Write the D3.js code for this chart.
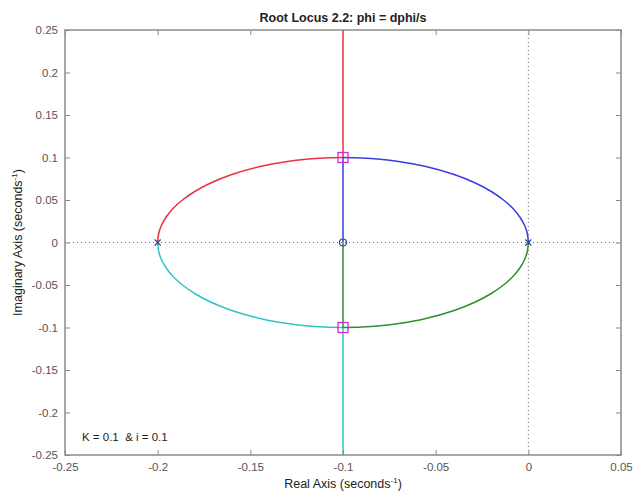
<!DOCTYPE html>
<html>
<head>
<meta charset="utf-8">
<script src="https://cdn.jsdelivr.net/npm/d3@7"></script>
<style>
  html, body { margin: 0; padding: 0; background: #fff; }
  text { font-family: "Liberation Sans", Arial, sans-serif; }
</style>
</head>
<body>
<svg id="chart" width="635" height="493"></svg>
<script>
// Root locus branches, as [real, imaginary] points (seconds^-1).
// Each branch is a curved arc off the real axis followed by a straight leg.
const redArc = [
  [-0.2, 0], [-0.1995, 0.01], [-0.198, 0.02], [-0.1954, 0.03], [-0.1917, 0.04],
  [-0.1866, 0.05], [-0.18, 0.06], [-0.1714, 0.07], [-0.16, 0.08], [-0.1436, 0.09],
  [-0.13, 0.0954], [-0.12, 0.098], [-0.11, 0.0995], [-0.1, 0.1]
];
const redLeg = [[-0.1, 0.1], [-0.1, 0.25]];
const blueArc = [
  [0, 0], [-0.0005, 0.01], [-0.002, 0.02], [-0.0046, 0.03], [-0.0083, 0.04],
  [-0.0134, 0.05], [-0.02, 0.06], [-0.0286, 0.07], [-0.04, 0.08], [-0.0564, 0.09],
  [-0.07, 0.0954], [-0.08, 0.098], [-0.09, 0.0995], [-0.1, 0.1]
];
const blueLeg = [[-0.1, 0.1], [-0.1, 0]];
const cyanArc = [
  [-0.2, 0], [-0.1995, -0.01], [-0.198, -0.02], [-0.1954, -0.03], [-0.1917, -0.04],
  [-0.1866, -0.05], [-0.18, -0.06], [-0.1714, -0.07], [-0.16, -0.08], [-0.1436, -0.09],
  [-0.13, -0.0954], [-0.12, -0.098], [-0.11, -0.0995], [-0.1, -0.1]
];
const cyanLeg = [[-0.1, -0.1], [-0.1, -0.25]];
const greenArc = [
  [0, 0], [-0.0005, -0.01], [-0.002, -0.02], [-0.0046, -0.03], [-0.0083, -0.04],
  [-0.0134, -0.05], [-0.02, -0.06], [-0.0286, -0.07], [-0.04, -0.08], [-0.0564, -0.09],
  [-0.07, -0.0954], [-0.08, -0.098], [-0.09, -0.0995], [-0.1, -0.1]
];
const greenLeg = [[-0.1, -0.1], [-0.1, 0]];
const poles = [[-0.2, 0], [0, 0]];
const zeros = [[-0.1, 0]];
const selectedRoots = [[-0.1, 0.1], [-0.1, -0.1]];

const xTicks = [-0.25, -0.2, -0.15, -0.1, -0.05, 0, 0.05];
const yTicks = [-0.25, -0.2, -0.15, -0.1, -0.05, 0, 0.05, 0.1, 0.15, 0.2, 0.25];
const xTickLabels = ["-0.25", "-0.2", "-0.15", "-0.1", "-0.05", "0", "0.05"];
const yTickLabels = ["-0.25", "-0.2", "-0.15", "-0.1", "-0.05", "0", "0.05", "0.1", "0.15", "0.2", "0.25"];

const branches = [
  { arc: redArc, leg: redLeg, color: "#e8323c" },
  { arc: blueArc, leg: blueLeg, color: "#3a3ae6" },
  { arc: cyanArc, leg: cyanLeg, color: "#2ec4c4" },
  { arc: greenArc, leg: greenLeg, color: "#2f8f2f" }
];

const svg = d3.select("#chart");
const L = 65, R = 621, T = 30, B = 455;
const x = d3.scaleLinear().domain([-0.25, 0.05]).range([L, R]);
const y = d3.scaleLinear().domain([-0.25, 0.25]).range([B, T]);

const axisColor = "#8a8a8a";
const textColor = "#555";

// reference lines through the origin
svg.append("line")
  .attr("x1", L).attr("x2", R).attr("y1", y(0)).attr("y2", y(0))
  .attr("stroke", "#666").attr("stroke-width", 1).attr("stroke-dasharray", "1,3");
svg.append("line")
  .attr("x1", x(0)).attr("x2", x(0)).attr("y1", T).attr("y2", B)
  .attr("stroke", "#666").attr("stroke-width", 1).attr("stroke-dasharray", "1,3");

// locus branches
const curved = d3.line().x(d => x(d[0])).y(d => y(d[1])).curve(d3.curveCatmullRom);
const straight = d3.line().x(d => x(d[0])).y(d => y(d[1]));
branches.forEach(b => {
  svg.append("path").datum(b.arc)
    .attr("d", curved)
    .attr("fill", "none").attr("stroke", b.color).attr("stroke-width", 1.5);
  svg.append("path").datum(b.leg)
    .attr("d", straight)
    .attr("fill", "none").attr("stroke", b.color).attr("stroke-width", 1.5);
});

// poles (x) and zeros (o)
const poleColor = "#2a4a8a";
poles.forEach(p => {
  const cx = x(p[0]), cy = y(p[1]), s = 3;
  svg.append("path")
    .attr("d", `M${cx - s},${cy - s}L${cx + s},${cy + s}M${cx - s},${cy + s}L${cx + s},${cy - s}`)
    .attr("stroke", poleColor).attr("stroke-width", 1.2).attr("fill", "none");
});
zeros.forEach(z => {
  svg.append("circle")
    .attr("cx", x(z[0])).attr("cy", y(z[1])).attr("r", 3.5)
    .attr("fill", "none").attr("stroke", poleColor).attr("stroke-width", 1.2);
});

// closed-loop roots at the chosen gain
selectedRoots.forEach(r => {
  svg.append("rect")
    .attr("x", x(r[0]) - 5).attr("y", y(r[1]) - 5)
    .attr("width", 10).attr("height", 10)
    .attr("fill", "none").attr("stroke", "#d22ad2").attr("stroke-width", 1.3);
});

// axes box with inward ticks on all sides
const tickLen = 5;
const axisBottom = d3.axisBottom(x).tickValues(xTicks).tickSize(-tickLen)
  .tickFormat((d, i) => xTickLabels[i]).tickPadding(8);
const axisTop = d3.axisTop(x).tickValues(xTicks).tickSize(-tickLen).tickFormat("");
const axisLeft = d3.axisLeft(y).tickValues(yTicks).tickSize(-tickLen)
  .tickFormat((d, i) => yTickLabels[i]).tickPadding(7);
const axisRight = d3.axisRight(y).tickValues(yTicks).tickSize(-tickLen).tickFormat("");

function styleAxis(g) {
  g.select(".domain").attr("stroke", axisColor).attr("stroke-width", 1.5);
  g.selectAll(".tick line").attr("stroke", axisColor).attr("stroke-width", 1);
  g.selectAll(".tick text").attr("fill", textColor)
    .style("font-family", "'Liberation Sans', Arial, sans-serif").style("font-size", "11.5px");
}
svg.append("g").attr("transform", `translate(0,${B})`).call(axisBottom).call(styleAxis);
svg.append("g").attr("transform", `translate(0,${T})`).call(axisTop).call(styleAxis);
svg.append("g").attr("transform", `translate(${L},0)`).call(axisLeft).call(styleAxis);
svg.append("g").attr("transform", `translate(${R},0)`).call(axisRight).call(styleAxis);
svg.selectAll(".domain").attr("d", null);
svg.append("rect").attr("x", L).attr("y", T).attr("width", R - L).attr("height", B - T)
  .attr("fill", "none").attr("stroke", axisColor).attr("stroke-width", 1.5);

// title
svg.append("text")
  .attr("x", (L + R) / 2).attr("y", 22)
  .attr("text-anchor", "middle")
  .attr("font-size", "12.5px").attr("font-weight", "bold").attr("fill", "#222")
  .text("Root Locus 2.2: phi = dphi/s");

// axis labels with superscript
const xl = svg.append("text")
  .attr("x", (L + R) / 2).attr("y", 488)
  .attr("text-anchor", "middle").attr("font-size", "12.5px").attr("fill", "#222");
xl.append("tspan").text("Real Axis (seconds");
xl.append("tspan").attr("dy", -5).attr("font-size", "8px").text("-1");
xl.append("tspan").attr("dy", 5).text(")");

const yl = svg.append("text")
  .attr("transform", `translate(22,${(T + B) / 2}) rotate(-90)`)
  .attr("text-anchor", "middle").attr("font-size", "12.5px").attr("fill", "#222");
yl.append("tspan").text("Imaginary Axis (seconds");
yl.append("tspan").attr("dy", -5).attr("font-size", "8px").text("-1");
yl.append("tspan").attr("dy", 5).text(")");

// gain annotation
svg.append("text")
  .attr("x", 82).attr("y", 441)
  .attr("font-size", "11.5px").attr("fill", "#222")
  .attr("xml:space", "preserve").style("white-space", "pre")
  .text("K = 0.1  & i = 0.1");
</script>
</body>
</html>
